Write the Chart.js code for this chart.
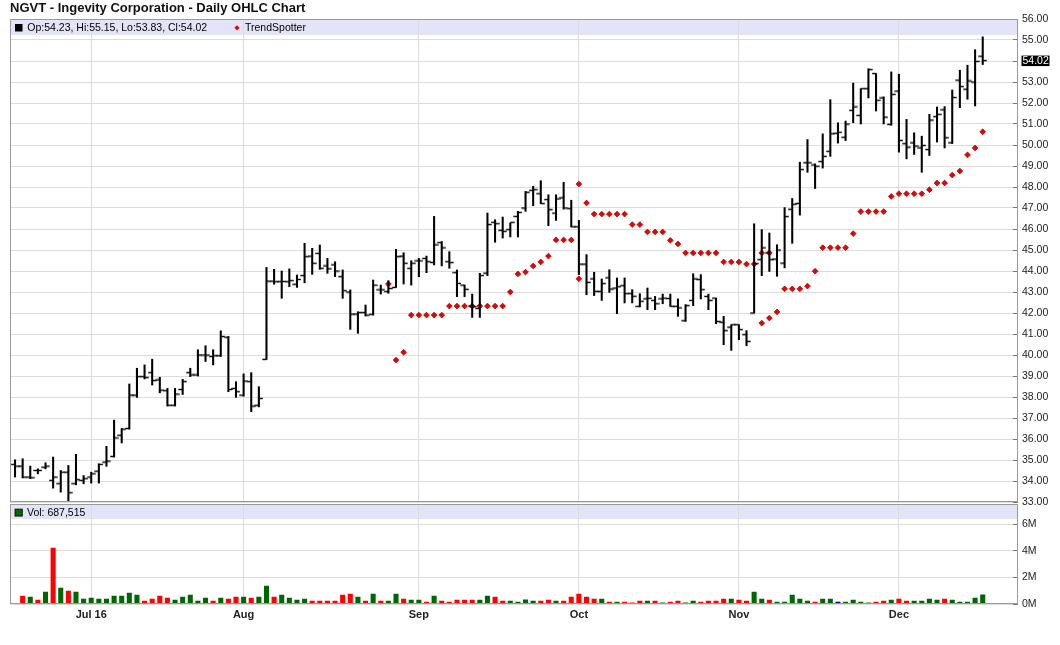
<!DOCTYPE html>
<html lang="en"><head><meta charset="utf-8"><title>NGVT - Ingevity Corporation - Daily OHLC Chart</title>
<script src="https://cdn.jsdelivr.net/npm/chart.js@4.4.1/dist/chart.umd.min.js"></script>
<style>
html,body{margin:0;padding:0;background:#fff;overflow:hidden}
#wrap{position:relative;width:1060px;height:645px}
canvas{position:absolute;left:0}
#priceCanvas{top:0}
#volCanvas{top:503px}
</style></head><body>
<div id="wrap">
<canvas id="priceCanvas" width="1060" height="510"></canvas>
<canvas id="volCanvas" width="1060" height="142"></canvas>
</div>
<script>
// ---------------- DATA ----------------
const chartTitle = "NGVT - Ingevity Corporation - Daily OHLC Chart";
const dates = [
"2016-06-17","2016-06-20","2016-06-21","2016-06-22","2016-06-23","2016-06-24","2016-06-27","2016-06-28","2016-06-29","2016-06-30",
"2016-07-01","2016-07-05","2016-07-06","2016-07-07","2016-07-08","2016-07-11","2016-07-12","2016-07-13","2016-07-14","2016-07-15",
"2016-07-18","2016-07-19","2016-07-20","2016-07-21","2016-07-22","2016-07-25","2016-07-26","2016-07-27","2016-07-28","2016-07-29",
"2016-08-01","2016-08-02","2016-08-03","2016-08-04","2016-08-05","2016-08-08","2016-08-09","2016-08-10","2016-08-11","2016-08-12",
"2016-08-15","2016-08-16","2016-08-17","2016-08-18","2016-08-19","2016-08-22","2016-08-23","2016-08-24","2016-08-25","2016-08-26",
"2016-08-29","2016-08-30","2016-08-31","2016-09-01","2016-09-02","2016-09-06","2016-09-07","2016-09-08","2016-09-09","2016-09-12",
"2016-09-13","2016-09-14","2016-09-15","2016-09-16","2016-09-19","2016-09-20","2016-09-21","2016-09-22","2016-09-23","2016-09-26",
"2016-09-27","2016-09-28","2016-09-29","2016-09-30","2016-10-03","2016-10-04","2016-10-05","2016-10-06","2016-10-07","2016-10-10",
"2016-10-11","2016-10-12","2016-10-13","2016-10-14","2016-10-17","2016-10-18","2016-10-19","2016-10-20","2016-10-21","2016-10-24",
"2016-10-25","2016-10-26","2016-10-27","2016-10-28","2016-10-31","2016-11-01","2016-11-02","2016-11-03","2016-11-04","2016-11-07",
"2016-11-08","2016-11-09","2016-11-10","2016-11-11","2016-11-14","2016-11-15","2016-11-16","2016-11-17","2016-11-18","2016-11-21",
"2016-11-22","2016-11-23","2016-11-25","2016-11-28","2016-11-29","2016-11-30","2016-12-01","2016-12-02","2016-12-05","2016-12-06",
"2016-12-07","2016-12-08","2016-12-09","2016-12-12","2016-12-13","2016-12-14","2016-12-15","2016-12-16"];
const monthTickLabels = ["Jul 16","Aug","Sep","Oct","Nov","Dec"];

const openP = [
34.79,34.71,34.19,34.5,34.66,34.03,33.87,34.42,33.87,34.03,
34.19,34.47,34.9,35.17,36.18,36.5,38.09,38.97,39.16,38.81,
38.3,37.61,38.36,39.16,39.05,40.0,39.93,39.96,40.85,38.41,
38.09,38.73,37.61,39.79,43.52,43.49,43.49,43.37,43.78,44.71,
44.84,44.24,44.29,43.73,43.0,41.95,42.02,41.94,43.1,43.02,
43.22,44.71,44.13,44.48,44.6,44.41,45.35,44.44,43.92,43.33,
42.33,42.22,43.9,46.32,45.94,45.97,46.6,47.0,47.84,47.68,
47.4,46.76,47.48,46.97,46.1,44.33,43.62,43.03,43.67,43.19,
43.3,42.92,42.32,42.67,42.6,42.67,42.69,42.32,41.63,42.6,
43.59,42.79,42.71,41.56,41.33,41.44,40.97,42.0,44.54,44.86,
44.57,44.38,46.94,47.22,49.15,49.05,49.21,49.7,50.56,50.37,
51.65,51.41,52.68,53.4,52.24,50.98,52.57,50.06,50.1,49.86,
49.78,51.35,51.67,50.1,53.09,52.66,53.0,54.23];
const highP = [
35.01,35.06,34.71,34.58,34.87,35.14,34.5,34.74,35.27,34.26,
34.42,34.82,35.65,36.9,36.5,38.62,39.37,39.53,39.8,38.94,
38.41,38.41,38.84,39.37,40.25,40.44,40.25,41.15,40.88,38.73,
39.1,39.16,38.49,44.17,44.08,44.0,44.1,43.81,45.32,45.08,
45.24,44.6,44.44,44.05,43.1,42.06,42.38,43.57,43.33,43.54,
45.03,44.87,44.49,44.6,44.71,46.6,45.4,44.92,44.05,43.33,
42.9,43.89,46.76,46.44,46.57,46.29,46.84,47.79,48.03,48.3,
47.63,47.63,48.22,47.37,46.41,44.78,43.94,43.62,44.06,43.67,
43.67,43.11,42.92,43.19,42.79,42.9,42.9,42.67,42.4,43.87,
43.83,42.9,42.71,41.84,41.44,41.44,41.16,46.25,45.97,45.81,
45.25,47.02,47.45,49.18,50.26,49.1,50.53,52.16,51.06,51.14,
52.95,52.68,53.63,53.4,52.29,53.48,53.37,51.22,50.58,50.42,
51.46,51.81,51.83,52.62,53.56,53.8,54.54,55.15];
const lowP = [
34.19,34.15,34.11,34.34,34.58,33.66,33.47,33.02,33.82,33.87,
33.9,33.9,34.7,35.14,35.81,36.47,37.98,38.86,38.57,38.2,
37.57,37.57,38.12,38.97,39.0,39.69,39.53,39.93,38.25,37.98,
38.04,37.3,37.53,39.79,43.37,42.7,43.25,43.22,43.44,43.84,
44.08,43.89,43.73,42.7,41.22,41.03,41.86,41.9,42.9,42.94,
43.22,43.38,43.33,43.73,43.92,44.29,44.24,44.13,42.78,42.78,
41.79,41.79,43.78,45.37,45.57,45.62,45.62,46.84,47.11,47.21,
46.16,46.41,46.95,46.1,43.83,42.87,42.83,42.6,42.98,41.97,
42.48,42.48,42.29,42.16,42.16,42.44,42.32,41.84,41.6,42.35,
42.67,42.16,41.49,40.49,40.22,40.73,40.44,42.0,43.78,43.98,
43.75,44.15,45.32,46.66,48.7,47.93,48.9,49.46,50.09,50.21,
51.06,51.0,52.24,51.62,51.0,50.94,49.66,49.34,49.55,48.7,
49.5,50.14,49.86,50.07,51.78,52.18,51.86,53.83];
const closeP = [
34.71,34.19,34.15,34.5,34.71,34.19,34.42,33.44,34.06,34.11,
34.34,34.79,34.95,36.05,36.47,38.09,38.97,38.92,38.78,38.33,
37.61,38.14,38.73,39.05,40.0,40.0,39.96,40.88,38.36,38.25,
38.76,37.57,37.93,43.52,43.49,43.5,43.54,43.6,44.68,44.37,
44.13,44.1,44.0,43.06,41.95,42.02,41.9,43.33,43.1,43.17,
44.68,44.37,44.37,44.48,44.44,45.24,45.1,44.4,43.41,43.13,
42.3,43.78,46.21,46.25,45.89,46.32,46.79,47.75,47.87,47.21,
46.92,47.43,47.0,46.1,44.33,43.46,43.03,43.4,43.14,43.25,
42.92,42.8,42.56,42.7,42.44,42.71,42.32,42.24,42.35,43.62,
43.11,42.6,41.6,41.16,41.44,41.21,40.65,44.35,45.1,44.54,
45.0,46.59,47.18,48.83,49.15,48.99,49.46,50.53,50.61,51.0,
51.81,52.68,53.59,52.13,51.33,52.41,50.22,49.9,49.95,49.98,
51.19,51.46,50.34,52.26,52.78,53.05,53.98,54.02];
const trendSpotter = [
null,null,null,null,null,null,null,null,null,null,
null,null,null,null,null,null,null,null,null,null,
null,null,null,null,null,null,null,null,null,null,
null,null,null,null,null,null,null,null,null,null,
null,null,null,null,null,null,null,null,null,43.38,
39.76,40.13,41.9,41.9,41.9,41.9,41.9,42.33,42.33,42.33,
42.33,42.33,42.33,42.33,42.33,43.0,43.86,43.95,44.24,44.43,
44.71,45.48,45.48,45.48,48.14,47.24,46.71,46.71,46.71,46.71,
46.71,46.21,46.21,45.86,45.86,45.86,45.46,45.29,44.86,44.86,
44.86,44.86,44.86,44.43,44.43,44.43,44.33,44.33,41.52,41.76,
42.05,43.15,43.15,43.15,43.28,43.99,45.11,45.11,45.11,45.11,
45.78,46.83,46.83,46.83,46.83,47.55,47.68,47.68,47.68,47.68,
47.87,48.19,48.19,48.57,48.76,49.53,49.86,50.63];
const trendExtraIdx = [74, 98, 99];
const trendExtraVal = [43.63, 44.86, 44.86];
const volumeM = [
null,0.6,0.52,0.3,0.9,4.2,1.2,0.97,0.9,0.37,
0.45,0.37,0.37,0.6,0.6,0.82,0.67,0.22,0.37,0.6,
0.45,0.3,0.52,0.67,0.22,0.45,0.22,0.45,0.37,0.52,
0.52,0.45,0.52,1.35,0.52,0.67,0.45,0.3,0.37,0.22,
0.22,0.22,0.22,0.67,0.75,0.52,0.22,0.75,0.22,0.22,
0.75,0.37,0.3,0.3,0.15,0.6,0.22,0.15,0.3,0.3,
0.3,0.3,0.6,0.52,0.22,0.22,0.15,0.32,0.22,0.22,
0.3,0.22,0.22,0.52,0.75,0.52,0.37,0.37,0.15,0.15,
0.15,0.08,0.22,0.22,0.22,0.08,0.15,0.22,0.08,0.22,
0.15,0.22,0.22,0.37,0.37,0.3,0.22,0.9,0.37,0.3,
0.15,0.15,0.67,0.37,0.22,0.15,0.37,0.37,0.15,0.15,
0.3,0.15,0.08,0.15,0.22,0.3,0.37,0.22,0.22,0.22,
0.37,0.3,0.37,0.3,0.15,0.15,0.45,0.687515];
// 1 = up day, -1 = down day, 0 = unchanged
const volumeDir = [
0,-1,1,-1,1,-1,1,-1,1,1,
1,1,1,1,1,1,1,-1,-1,-1,
-1,1,1,1,1,1,-1,1,-1,-1,
1,-1,1,1,-1,1,1,1,1,-1,
-1,-1,-1,-1,-1,1,-1,1,-1,1,
1,-1,1,1,-1,1,-1,-1,-1,-1,
-1,1,1,-1,-1,1,1,1,1,-1,
-1,1,-1,-1,-1,-1,-1,1,-1,1,
-1,-1,-1,1,-1,1,-1,-1,1,1,
-1,-1,-1,-1,1,-1,-1,1,1,-1,
1,1,1,1,1,-1,1,1,0,1,
1,1,1,-1,-1,1,-1,-1,1,1,
1,1,-1,1,1,1,1,1];

// ---------------- CHART ----------------
const FONT = "'Liberation Sans', Arial, Helvetica, sans-serif";
Chart.defaults.font.family = FONT;
Chart.defaults.font.size = 10.5;
Chart.defaults.color = '#222';

const last = closeP.length - 1;
const idx = dates.map((d, i) => i);
const monthStarts = [];
dates.forEach((d, i) => { if (i > 0 && d.slice(5, 7) !== dates[i - 1].slice(5, 7)) monthStarts.push(i); });

const X_MIN = -0.66, X_MAX = 131.63;
const GRID = '#dcdcdc';

function makeTick(side) {
  const c = document.createElement('canvas');
  c.width = 9; c.height = 3;
  const g = c.getContext('2d');
  g.fillStyle = '#000';
  g.fillRect(side < 0 ? 0.3 : 4.5, 0.8, 4.2, 1.4);
  return c;
}
const openTick = makeTick(-1), closeTick = makeTick(1);

function xScale(showLabels) {
  return {
    type: 'linear', min: X_MIN, max: X_MAX, position: 'bottom', offset: false,
    border: { display: false },
    grid: { color: GRID, lineWidth: 1, drawTicks: false, offset: false },
    ticks: {
      display: showLabels, autoSkip: false, maxRotation: 0, padding: 4,
      color: '#222', font: { size: 11, weight: 'bold' },
      callback: (v) => { const k = monthStarts.indexOf(v); return k >= 0 ? monthTickLabels[k] : ''; }
    },
    afterBuildTicks: (s) => { s.ticks = monthStarts.map(v => ({ value: v })); },
    afterFit: (s) => { s.height = showLabels ? 20 : 0; s.paddingLeft = 0; s.paddingRight = 0; }
  };
}

function frame(ctx, a) {
  ctx.strokeStyle = '#9a9a9a'; ctx.lineWidth = 1;
  const l = Math.round(a.left) + 0.5, t = Math.round(a.top) + 0.5;
  const r = Math.round(a.right) - 0.5, b = Math.round(a.bottom) - 0.5;
  ctx.strokeRect(l, t, r - l, b - t);
}

const priceDeco = {
  id: 'priceDeco',
  beforeDraw(chart) {
    const { ctx, chartArea: a } = chart;
    ctx.save();
    ctx.fillStyle = '#e4e4f8';
    ctx.fillRect(a.left, a.top + 1, a.width, 15);
    ctx.restore();
  },
  afterDraw(chart) {
    const { ctx, chartArea: a } = chart;
    ctx.save();
    frame(ctx, a);
    ctx.font = '10.5px ' + FONT; ctx.textAlign = 'left'; ctx.textBaseline = 'alphabetic';
    ctx.fillStyle = '#000';
    ctx.fillRect(15, a.top + 5, 7.5, 7.5);
    ctx.fillText('Op:' + openP[last].toFixed(2) + ', Hi:' + highP[last].toFixed(2) + ', Lo:' + lowP[last].toFixed(2) + ', Cl:' + closeP[last].toFixed(2), 27.3, a.top + 12.3);
    const cx = 237, cy = a.top + 8.8;
    ctx.fillStyle = '#ee0000';
    ctx.beginPath(); ctx.moveTo(cx, cy - 2.6); ctx.lineTo(cx + 2.6, cy); ctx.lineTo(cx, cy + 2.6); ctx.lineTo(cx - 2.6, cy); ctx.closePath(); ctx.fill();
    ctx.fillStyle = '#000';
    ctx.fillText('TrendSpotter', 245, a.top + 12.3);
    const y = chart.scales.y.getPixelForValue(closeP[last]);
    ctx.fillStyle = '#000';
    ctx.fillRect(1021.5, y - 5, 28, 10.5);
    ctx.fillStyle = '#fff'; ctx.textBaseline = 'middle';
    ctx.fillText(closeP[last].toFixed(2), 1022.5, y + 0.5);
    ctx.restore();
  }
};

const volDeco = {
  id: 'volDeco',
  beforeDraw(chart) {
    const { ctx, chartArea: a } = chart;
    ctx.save();
    ctx.fillStyle = '#e4e4f8';
    ctx.fillRect(a.left, a.top, a.width, 14.7);
    ctx.restore();
  },
  afterDraw(chart) {
    const { ctx, chartArea: a } = chart;
    ctx.save();
    frame(ctx, a);
    ctx.fillStyle = '#006600'; ctx.strokeStyle = '#000'; ctx.lineWidth = 0.8;
    ctx.fillRect(15, a.top + 4.8, 7.3, 7); ctx.strokeRect(15, a.top + 4.8, 7.3, 7);
    ctx.font = '10.5px ' + FONT; ctx.textAlign = 'left'; ctx.textBaseline = 'alphabetic';
    ctx.fillStyle = '#000';
    ctx.fillText('Vol: ' + Math.round(volumeM[last] * 1e6).toLocaleString('en-US'), 27, a.top + 11.6);
    ctx.restore();
  }
};

const trendPoints = idx.filter(i => trendSpotter[i] !== null).map(i => ({ x: i, y: trendSpotter[i] }))
  .concat(trendExtraIdx.map((x, k) => ({ x, y: trendExtraVal[k] })));

new Chart(document.getElementById('priceCanvas'), {
  type: 'bar',
  data: {
    datasets: [
      { label: 'High-Low', type: 'bar', data: idx.map(i => ({ x: i, y: [lowP[i], highP[i]] })),
        backgroundColor: '#000', borderWidth: 0, barThickness: 1.4 },
      { label: 'Open', type: 'scatter', data: idx.map(i => ({ x: i, y: openP[i] })),
        pointStyle: openTick, pointRadius: 3, pointHoverRadius: 3 },
      { label: 'Close', type: 'scatter', data: idx.map(i => ({ x: i, y: closeP[i] })),
        pointStyle: closeTick, pointRadius: 3, pointHoverRadius: 3 },
      { label: 'TrendSpotter', type: 'scatter', data: trendPoints,
        pointStyle: 'rectRot', pointRadius: 2.9, backgroundColor: '#ee0000', borderColor: '#9a0000', borderWidth: 0.7 }
    ]
  },
  options: {
    responsive: false, animation: false, events: [],
    layout: { padding: { left: 10, right: 0, top: 0, bottom: 8 } },
    plugins: {
      legend: { display: false }, tooltip: { enabled: false },
      title: { display: true, text: chartTitle, align: 'start', color: '#111',
        font: { size: 13, weight: 'bold', lineHeight: 1 }, padding: { top: 1.5, bottom: 4.5 } }
    },
    scales: {
      x: xScale(false),
      y: {
        type: 'linear', position: 'right', min: 33, max: 56,
        border: { display: false },
        grid: { color: GRID, lineWidth: 1, drawTicks: true, tickLength: -5, tickColor: '#777' },
        ticks: { stepSize: 1, padding: 9, color: '#222', font: { size: 10.5 },
          callback: (v) => Math.abs(v - closeP[last]) < 0.5 ? '' : Number(v).toFixed(2) },
        afterFit: (s) => { s.width = 42; s.paddingTop = 0; s.paddingBottom = 0; }
      }
    }
  },
  plugins: [priceDeco]
});

new Chart(document.getElementById('volCanvas'), {
  type: 'bar',
  data: {
    datasets: [
      { label: 'Volume', data: idx.map(i => ({ x: i, y: volumeM[i] })),
        backgroundColor: (c) => { const d = volumeDir[c.dataIndex]; return d > 0 ? '#006600' : (d < 0 ? '#ff0000' : '#000080'); },
        borderWidth: 0, barThickness: 4.4 }
    ]
  },
  options: {
    responsive: false, animation: false, events: [],
    layout: { padding: { left: 10, right: 0, top: 1.3, bottom: 21 } },
    plugins: { legend: { display: false }, tooltip: { enabled: false } },
    scales: {
      x: xScale(true),
      y: {
        type: 'linear', position: 'right', min: 0, max: 7.5,
        border: { display: false },
        grid: { color: GRID, lineWidth: 1, drawTicks: true, tickLength: -5, tickColor: '#777' },
        ticks: { padding: 9, color: '#222', font: { size: 10.5 }, callback: (v) => v + 'M' },
        afterBuildTicks: (s) => { s.ticks = [0, 2, 4, 6].map(v => ({ value: v })); },
        afterFit: (s) => { s.width = 42; s.paddingTop = 0; s.paddingBottom = 0; }
      }
    }
  },
  plugins: [volDeco]
});
</script>
</body></html>
